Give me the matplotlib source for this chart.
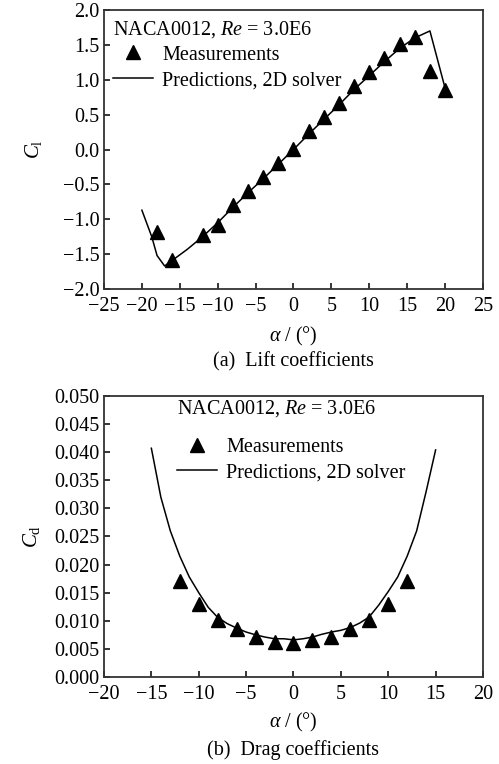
import numpy as np
import matplotlib
matplotlib.use('Agg')
import matplotlib.pyplot as plt
from matplotlib.ticker import FuncFormatter

plt.rcParams['font.family'] = 'Liberation Serif'
plt.rcParams['mathtext.fontset'] = 'custom'
plt.rcParams['mathtext.rm'] = 'Liberation Serif'
plt.rcParams['mathtext.it'] = 'Liberation Serif:italic'
plt.rcParams['font.size'] = 14.5
plt.rcParams['axes.unicode_minus'] = True

# lift coefficient, NACA0012, Re = 3.0E6
cl_alpha_meas = [-18, -16, -12, -10, -8, -6, -4, -2, 0, 2, 4, 6, 8, 10, 12, 14, 16, 18, 20]
cl_meas = [-1.18, -1.59, -1.23, -1.08, -0.79, -0.59, -0.39, -0.19, 0.01, 0.27, 0.46, 0.66,
           0.91, 1.11, 1.31, 1.51, 1.62, 1.12, 0.86]
cl_alpha_pred = [-20, -18.7, -18, -17, -16, -14, -12, -10, -8, -6, -4, -2, 0, 2, 4, 6, 8,
                 10, 12, 14, 16, 18, 20]
cl_pred = [-0.87, -1.25, -1.52, -1.67, -1.59, -1.43, -1.25, -1.05, -0.83, -0.62, -0.42,
           -0.21, 0.0, 0.22, 0.43, 0.64, 0.86, 1.06, 1.26, 1.45, 1.6, 1.7, 0.88]

# drag coefficient
cd_alpha_meas = [-12, -10, -8, -6, -4, -2, 0, 2, 4, 6, 8, 10, 12]
cd_meas = [0.0170, 0.0130, 0.0101, 0.0086, 0.0072, 0.0063, 0.0060, 0.0065, 0.0072,
           0.0086, 0.0101, 0.0130, 0.0170]
cd_alpha_pred = list(range(-15, 16))
cd_pred = [0.0407, 0.0320, 0.0260, 0.0215, 0.0178, 0.0150, 0.0124, 0.0106, 0.0095,
           0.0087, 0.0080, 0.0075, 0.0071, 0.0068, 0.0068, 0.0066, 0.0068, 0.0071,
           0.0076, 0.0080, 0.0083, 0.0088, 0.0096, 0.0107, 0.0128, 0.0152, 0.0178,
           0.0215, 0.0260, 0.0330, 0.0404]

title = 'NACA0012, $Re$ = 3.0E6'
xlabel = r'$\alpha$ / (°)'

fig = plt.figure(figsize=(4.99, 7.64), dpi=100)
ax1 = fig.add_axes([0.2084, 0.6217, 0.7595, 0.3652])
ax2 = fig.add_axes([0.2084, 0.1139, 0.7595, 0.3678])


def fmt(ndig):
    return FuncFormatter(lambda v, p: ('%.*f' % (ndig, v)).replace('-', '\u2212'))


def style(ax):
    for s in ax.spines.values():
        s.set_linewidth(1.3)
        s.set_color('#333333')
    ax.tick_params(direction='in', length=4, width=1.1, top=False, right=False,
                   labelsize=14.5)
    ax.tick_params(axis='x', pad=6)
    ax.tick_params(axis='y', pad=3)


def legend(ax, x0, ytitle, yleg):
    # case title as plain text, entries as a legend below it
    ax.text(x0, ytitle, title, transform=ax.transAxes, ha='left', va='center',
            fontsize=14.5)
    lg = ax.legend(loc='center left', bbox_to_anchor=(x0, yleg),
                   frameon=False, handlelength=2.0, handletextpad=0.45,
                   labelspacing=0.32, borderaxespad=0.0, fontsize=14.5,
                   borderpad=0.0)
    return lg


# (a) lift
ax1.plot(cl_alpha_meas, cl_meas, '^', color='black', markersize=9.5,
         label='Measurements', zorder=3)
ax1.plot(cl_alpha_pred, cl_pred, '-', color='black', lw=1.1,
         label='Predictions, 2D solver')
ax1.set_xlim(-25, 25)
ax1.set_ylim(-2.0, 2.0)
ax1.set_xticks(np.arange(-25, 26, 5))
ax1.set_yticks(np.arange(-2.0, 2.01, 0.5))
ax1.xaxis.set_major_formatter(fmt(0))
ax1.yaxis.set_major_formatter(fmt(1))
ax1.set_ylabel(r'$\mathit{C}_\mathrm{l}$', labelpad=14, fontsize=15)
ax1.set_xlabel(xlabel, labelpad=6)
style(ax1)
legend(ax1, 0.024, 0.93, 0.793)
ax1.text(0.5, -0.262, '(a)  Lift coefficients', transform=ax1.transAxes,
         ha='center', va='center', fontsize=14.5)

# (b) drag
ax2.plot(cd_alpha_meas, cd_meas, '^', color='black', markersize=9.5,
         label='Measurements', zorder=3)
ax2.plot(cd_alpha_pred, cd_pred, '-', color='black', lw=1.1,
         label='Predictions, 2D solver')
ax2.set_xlim(-20, 20)
ax2.set_ylim(0.0, 0.05)
ax2.set_xticks(np.arange(-20, 21, 5))
ax2.set_yticks(np.arange(0.0, 0.0501, 0.005))
ax2.xaxis.set_major_formatter(fmt(0))
ax2.yaxis.set_major_formatter(fmt(3))
ax2.set_ylabel(r'$\mathit{C}_\mathrm{d}$', labelpad=9, fontsize=15)
ax2.set_xlabel(xlabel, labelpad=5)
style(ax2)
legend(ax2, 0.193, 0.955, 0.772)
ax2.text(0.5, -0.26, '(b)  Drag coefficients', transform=ax2.transAxes,
         ha='center', va='center', fontsize=14.5)

fig.savefig('out.png', dpi=100)
